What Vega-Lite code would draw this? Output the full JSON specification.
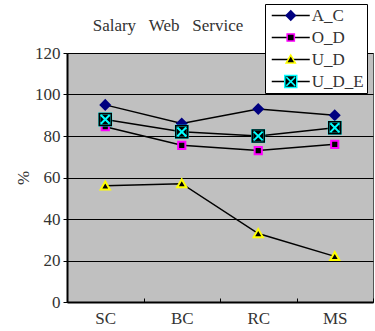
{
  "$schema": "https://vega.github.io/schema/vega-lite/v6.json",
  "width": 306,
  "height": 249,
  "autosize": "none",
  "padding": {"left": 67, "top": 53, "right": 2, "bottom": 29},
  "background": "white",
  "title": {
    "text": "Salary\u00a0\u00a0\u00a0Web\u00a0\u00a0\u00a0Service",
    "font": "Liberation Serif",
    "fontSize": 17,
    "fontWeight": "normal",
    "color": "#333333",
    "anchor": "middle",
    "frame": "group",
    "dx": -52,
    "offset": -44,
    "baseline": "alphabetic"
  },
  "config": {
    "view": {"fill": "#C0C0C0", "stroke": "#555555", "strokeWidth": 1},
    "font": "Liberation Serif"
  },
  "data": {
    "values": [
      {"cat": "SC", "series": "A_C", "value": 95},
      {"cat": "BC", "series": "A_C", "value": 86},
      {"cat": "RC", "series": "A_C", "value": 93},
      {"cat": "MS", "series": "A_C", "value": 90},
      {"cat": "SC", "series": "O_D", "value": 84.5},
      {"cat": "BC", "series": "O_D", "value": 75.5},
      {"cat": "RC", "series": "O_D", "value": 73},
      {"cat": "MS", "series": "O_D", "value": 76},
      {"cat": "SC", "series": "U_D", "value": 56},
      {"cat": "BC", "series": "U_D", "value": 57},
      {"cat": "RC", "series": "U_D", "value": 33},
      {"cat": "MS", "series": "U_D", "value": 22},
      {"cat": "SC", "series": "U_D_E", "value": 88},
      {"cat": "BC", "series": "U_D_E", "value": 82},
      {"cat": "RC", "series": "U_D_E", "value": 80},
      {"cat": "MS", "series": "U_D_E", "value": 84}
    ]
  },
  "encoding": {
    "x": {
      "field": "cat",
      "type": "nominal",
      "sort": ["SC", "BC", "RC", "MS"],
      "scale": {"type": "band", "paddingInner": 0, "paddingOuter": 0},
      "axis": {
        "title": null,
        "labelAngle": 0,
        "labelFont": "Liberation Serif",
        "labelFontSize": 17,
        "labelColor": "#333333",
        "labelPadding": 12,
        "domainColor": "#000000",
        "domainWidth": 2,
        "tickColor": "#000000",
        "tickSize": -4,
        "tickWidth": 1,
        "tickBand": "extent",
        "grid": false
      }
    },
    "y": {
      "field": "value",
      "type": "quantitative",
      "scale": {"domain": [0, 120], "nice": false, "zero": true},
      "axis": {
        "title": "%",
        "titleFont": "Liberation Serif",
        "titleFontSize": 17,
        "titleFontWeight": "normal",
        "titleColor": "#333333",
        "titlePadding": 2,
        "values": [0, 20, 40, 60, 80, 100, 120],
        "labelFont": "Liberation Serif",
        "labelFontSize": 17,
        "labelColor": "#333333",
        "labelPadding": 3,
        "domainColor": "#000000",
        "domainWidth": 2,
        "tickColor": "#000000",
        "tickSize": 4,
        "grid": true,
        "gridColor": "#000000",
        "gridWidth": 1,
        "gridOpacity": 1
      }
    }
  },
  "layer": [
    {
      "mark": {"type": "line", "strokeWidth": 1.5},
      "encoding": {
        "color": {
          "field": "series",
          "type": "nominal",
          "scale": {
            "domain": ["A_C", "O_D", "U_D", "U_D_E"],
            "range": ["#000000", "#000000", "#000000", "#000000"]
          },
          "legend": {
            "orient": "none",
            "legendX": 198,
            "legendY": -49,
            "title": null,
            "symbolType": "M-4.75,0H4.75",
            "symbolSize": 64,
            "symbolStrokeWidth": 1.5,
            "symbolOffset": 14.25,
            "labelOffset": 12.5,
            "labelFont": "Liberation Serif",
            "labelFontSize": 17,
            "labelColor": "#333333",
            "fillColor": "white",
            "strokeColor": "black",
            "padding": 3,
            "rowPadding": 4
          }
        }
      }
    },
    {
      "mark": {"type": "point", "filled": true, "opacity": 1, "strokeWidth": 2, "size": 64},
      "encoding": {
        "shape": {
          "field": "series",
          "type": "nominal",
          "scale": {
            "range": [
              "M0,-1.15L1.15,0L0,1.15L-1.15,0Z",
              "M-0.9,-0.9H0.9V0.9H-0.9Z",
              "M0,-1.1L1.15,0.9H-1.15Z",
              "M-1.5,-1.5H1.5V1.5H-1.5Z M-1.1,-1.1L1.1,1.1 M1.1,-1.1L-1.1,1.1"
            ]
          },
          "legend": {
            "orient": "none",
            "legendX": 198,
            "legendY": -49,
            "title": null,
            "symbolSize": 64,
            "symbolStrokeWidth": 1.5,
            "symbolOffset": 14.25,
            "labelOffset": 12.5,
            "labelFont": "Liberation Serif",
            "labelFontSize": 17,
            "labelColor": "rgba(0,0,0,0)",
            "padding": 3,
            "rowPadding": 4
          }
        },
        "fill": {
          "field": "series",
          "type": "nominal",
          "scale": {"range": ["#000080", "#000000", "#000000", "#000000"]}
        },
        "stroke": {
          "field": "series",
          "type": "nominal",
          "scale": {"range": ["#000080", "#FF00FF", "#FFFF00", "#00FFFF"]}
        }
      }
    },
    {
      "transform": [{"filter": "datum.series === 'U_D_E'"}],
      "mark": {
        "type": "point",
        "filled": false,
        "opacity": 1,
        "size": 64,
        "shape": "M-1.5,-1.5H1.5V1.5H-1.5Z",
        "stroke": "#000000",
        "strokeWidth": 1.5
      },
      "encoding": {}
    }
  ]
}
